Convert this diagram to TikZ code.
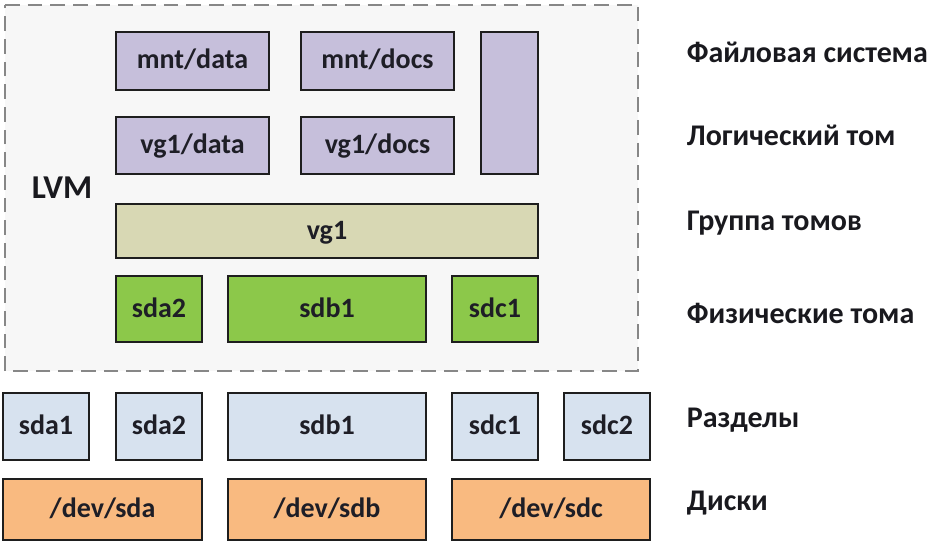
\documentclass[tikz,border=0pt]{standalone}
\usepackage{fontspec}
\setmainfont{Carlito}

\tikzset{every picture/.style={line width=0.75pt}}
\tikzset{
  boxline/.style={draw={rgb, 255:red, 30; green, 30; blue, 30 }, line width=1.9pt},
  lvbox/.style={boxline, fill={rgb, 255:red, 198; green, 191; blue, 219 }},
  vgbox/.style={boxline, fill={rgb, 255:red, 216; green, 216; blue, 180 }},
  pvbox/.style={boxline, fill={rgb, 255:red, 140; green, 200; blue, 74 }},
  partbox/.style={boxline, fill={rgb, 255:red, 215; green, 226; blue, 239 }},
  diskbox/.style={boxline, fill={rgb, 255:red, 249; green, 186; blue, 128 }},
  lvmframe/.style={draw={rgb, 255:red, 135; green, 135; blue, 135 }, fill={rgb, 255:red, 247; green, 247; blue, 247 }, line width=1pt, dash pattern=on 11pt off 6pt},
  boxtext/.style={font=\bfseries\fontsize{21}{25}\selectfont, text={rgb, 255:red, 30; green, 30; blue, 38 }, text height=12pt, text depth=0pt},
  layertext/.style={anchor=base west, font=\bfseries\fontsize{22.5}{27}\selectfont, text={rgb, 255:red, 25; green, 25; blue, 30 }}
}

\begin{document}
\begin{tikzpicture}[x=0.75pt,y=0.75pt,yscale=-1,xscale=1]
\useasboundingbox (0,0) rectangle (944,552);

%Shape: Rectangle
\draw [lvmframe] (5,5) -- (638,5) -- (638,371) -- (5,371) -- cycle ;
%Shape: Rectangle
\draw [lvbox] (116,32) -- (269,32) -- (269,90) -- (116,90) -- cycle ;
%Shape: Rectangle
\draw [lvbox] (301,32) -- (454,32) -- (454,90) -- (301,90) -- cycle ;
%Shape: Rectangle
\draw [lvbox] (481,32) -- (538,32) -- (538,174) -- (481,174) -- cycle ;
%Shape: Rectangle
\draw [lvbox] (116,117) -- (269,117) -- (269,174) -- (116,174) -- cycle ;
%Shape: Rectangle
\draw [lvbox] (301,117) -- (454,117) -- (454,174) -- (301,174) -- cycle ;
%Shape: Rectangle
\draw [vgbox] (116,204) -- (538,204) -- (538,258) -- (116,258) -- cycle ;
%Shape: Rectangle
\draw [pvbox] (116,276) -- (202,276) -- (202,342) -- (116,342) -- cycle ;
%Shape: Rectangle
\draw [pvbox] (228,276) -- (426,276) -- (426,342) -- (228,342) -- cycle ;
%Shape: Rectangle
\draw [pvbox] (452,276) -- (538,276) -- (538,342) -- (452,342) -- cycle ;
%Shape: Rectangle
\draw [partbox] (3,393) -- (89,393) -- (89,460) -- (3,460) -- cycle ;
%Shape: Rectangle
\draw [partbox] (116,393) -- (202,393) -- (202,460) -- (116,460) -- cycle ;
%Shape: Rectangle
\draw [partbox] (228,393) -- (426,393) -- (426,460) -- (228,460) -- cycle ;
%Shape: Rectangle
\draw [partbox] (452,393) -- (538,393) -- (538,460) -- (452,460) -- cycle ;
%Shape: Rectangle
\draw [partbox] (564,393) -- (650,393) -- (650,460) -- (564,460) -- cycle ;
%Shape: Rectangle
\draw [diskbox] (3,479) -- (202,479) -- (202,540) -- (3,540) -- cycle ;
%Shape: Rectangle
\draw [diskbox] (228,479) -- (426,479) -- (426,540) -- (228,540) -- cycle ;
%Shape: Rectangle
\draw [diskbox] (452,479) -- (650,479) -- (650,540) -- (452,540) -- cycle ;

% Text Node
\draw (27,199) node [anchor=base west, font=\bfseries\fontsize{25}{30}\selectfont, text={rgb, 255:red, 25; green, 25; blue, 30 }] (lvm) {LVM};
% Text Node
\draw (192.5,61) node [boxtext] (mntdata) {mnt/data};
% Text Node
\draw (377.5,61) node [boxtext] (mntdocs) {mnt/docs};
% Text Node
\draw (192.5,145.5) node [boxtext] (lvdata) {vg1/data};
% Text Node
\draw (377.5,145.5) node [boxtext] (lvdocs) {vg1/docs};
% Text Node
\draw (327,231) node [boxtext] (vgone) {vg1};
% Text Node
\draw (159,309) node [boxtext] (pvsdatwo) {sda2};
% Text Node
\draw (327,309) node [boxtext] (pvsdbone) {sdb1};
% Text Node
\draw (495,309) node [boxtext] (pvsdcone) {sdc1};
% Text Node
\draw (46,426.5) node [boxtext] (sdaone) {sda1};
% Text Node
\draw (159,426.5) node [boxtext] (sdatwo) {sda2};
% Text Node
\draw (327,426.5) node [boxtext] (sdbone) {sdb1};
% Text Node
\draw (495,426.5) node [boxtext] (sdcone) {sdc1};
% Text Node
\draw (607,426.5) node [boxtext] (sdctwo) {sdc2};
% Text Node
\draw (102.5,509.5) node [boxtext] (devsda) {/dev/sda};
% Text Node
\draw (327,509.5) node [boxtext] (devsdb) {/dev/sdb};
% Text Node
\draw (551,509.5) node [boxtext] (devsdc) {/dev/sdc};

% Text Node
\draw (682,63) node [layertext] (fslabel) {Файловая система};
% Text Node
\draw (682,146) node [layertext] (lvlabel) {Логический том};
% Text Node
\draw (682,230) node [layertext] (vglabel) {Группа томов};
% Text Node
\draw (682,323) node [layertext] (pvlabel) {Физические тома};
% Text Node
\draw (682,427) node [layertext] (partlabel) {Разделы};
% Text Node
\draw (682,510) node [layertext] (disklabel) {Диски};

\end{tikzpicture}
\end{document}
